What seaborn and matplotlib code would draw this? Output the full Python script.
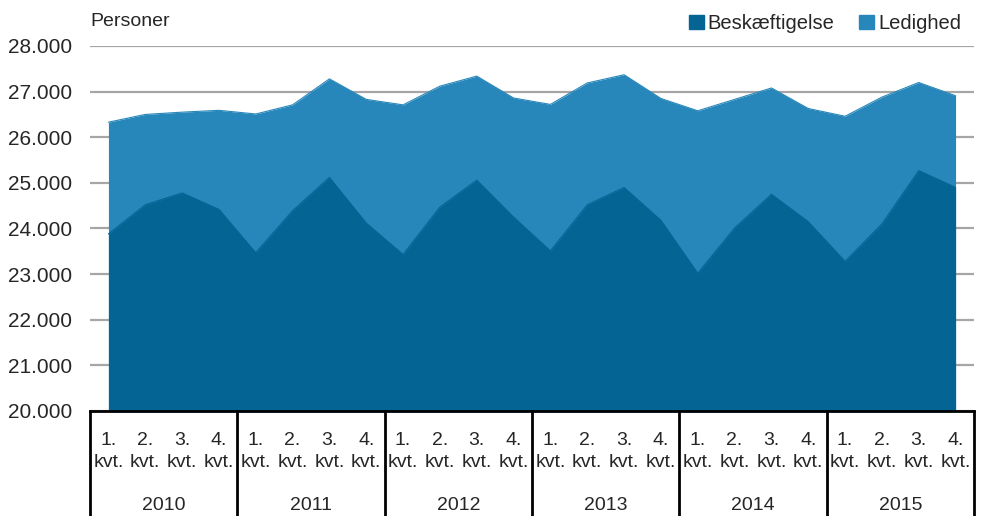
import numpy as np
import pandas as pd
import matplotlib
matplotlib.use("Agg")
import matplotlib.pyplot as plt
import matplotlib.transforms as mtransforms
from matplotlib.patches import Patch
import seaborn as sns

# ======================================
# DATA
# ======================================

years = ["2010", "2011", "2012", "2013", "2014", "2015"]
quarters = ["1.\nkvt.", "2.\nkvt.", "3.\nkvt.", "4.\nkvt."]

beskaeftigelse = [23880, 24520, 24780, 24420, 23470, 24390, 25120, 24120,
                  23430, 24470, 25060, 24250, 23510, 24520, 24900, 24180,
                  23020, 24010, 24750, 24150, 23280, 24100, 25270, 24900]
ledighed = [2450, 1980, 1770, 2170, 3040, 2320, 2160, 2710,
            3280, 2650, 2280, 2610, 3210, 2670, 2470, 2670,
            3560, 2820, 2330, 2480, 3180, 2780, 1930, 2010]

yticks = [20000, 21000, 22000, 23000, 24000, 25000, 26000, 27000, 28000]

dark = "#046595"
light = "#2887BA"

df = pd.DataFrame({
    "pos": np.arange(len(beskaeftigelse)),
    "Beskæftigelse": beskaeftigelse,
    "Ledighed": ledighed,
})
df["total"] = df["Beskæftigelse"] + df["Ledighed"]

# ======================================
# STYLE
# ======================================

sns.set_style("white")
plt.rcParams["font.family"] = ["Liberation Sans", "DejaVu Sans"]

fig = plt.figure(figsize=(9.83, 5.16), dpi=100)
ax = fig.add_axes([90 / 983, 105 / 516, 884 / 983, 365 / 516])

# ======================================
# AREAS
# ======================================

ax.fill_between(df["pos"], 20000, df["total"], color=light, lw=0, zorder=2)
ax.fill_between(df["pos"], 20000, df["Beskæftigelse"], color=dark, lw=0, zorder=3)
sns.lineplot(data=df, x="pos", y="total", ax=ax, color=light, lw=0.8, zorder=2)
sns.lineplot(data=df, x="pos", y="Beskæftigelse", ax=ax, color=dark, lw=0.8, zorder=3)

ax.set_xlim(-0.5, len(beskaeftigelse) - 0.5)
ax.set_ylim(20000, 28000)
ax.set_yticks(yticks)
ax.set_yticklabels([f"{v:,}".replace(",", ".") for v in yticks], fontsize=15)
ax.yaxis.grid(True, color="#A6A6A6", lw=1.6, zorder=0)
ax.set_axisbelow(True)
ax.tick_params(axis="y", length=0, pad=13)

ax.set_xticks(df["pos"])
ax.set_xticklabels(quarters * len(years), fontsize=14, linespacing=1.4)
ax.tick_params(axis="x", length=0, pad=15)
ax.set_xlabel("")
ax.set_ylabel("")

for s in ["left", "right", "top"]:
    ax.spines[s].set_visible(False)
ax.spines["bottom"].set_color("black")
ax.spines["bottom"].set_linewidth(2)
ax.spines["bottom"].set_zorder(5)

# year boxes under the axis
trans = mtransforms.blended_transform_factory(ax.transData, ax.transAxes)
for i in range(len(years) + 1):
    xb = i * 4 - 0.5
    ax.plot([xb, xb], [0, -0.3], transform=trans, color="black", lw=2,
            clip_on=False, zorder=5)
for i, yr in enumerate(years):
    ax.text(i * 4 + 1.5, -0.258, yr, transform=trans, ha="center",
            va="center", fontsize=14)

# ======================================
# TEXTS AND LEGEND
# ======================================

fig.text(90 / 983, 1 - 22 / 516, "Personer", ha="left", va="center", fontsize=14)

handles = [Patch(color=dark, label="Beskæftigelse"),
           Patch(color=light, label="Ledighed")]
fig.legend(handles=handles, loc="upper right", bbox_to_anchor=(0.992, 1.0),
           ncol=2, frameon=False, fontsize=14.5, handlelength=0.75,
           handleheight=0.75, handletextpad=0.2, columnspacing=1.2,
           borderaxespad=0.3)

fig.savefig("out.png", dpi=100)
